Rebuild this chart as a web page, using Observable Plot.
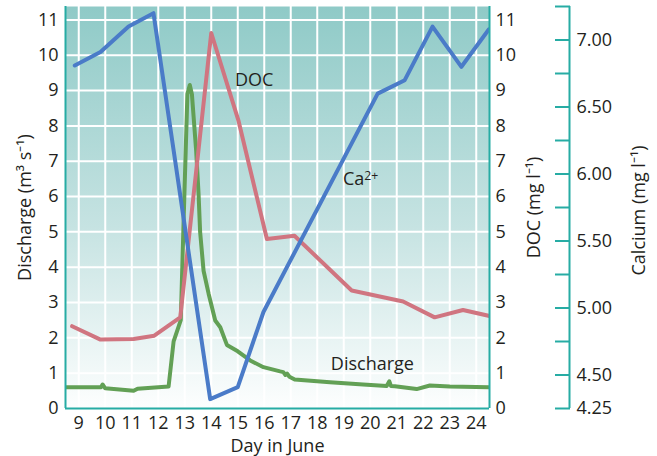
<!DOCTYPE html>
<html><head><meta charset="utf-8">
<script src="https://cdn.jsdelivr.net/npm/d3@7"></script>
<script src="https://cdn.jsdelivr.net/npm/@observablehq/plot@0.6"></script>
<style>body{margin:0;background:#fff;}</style>
</head><body><div id="chart"></div>
<script>
// ---- data ----
const days = [9,10,11,12,13,14,15,16,17,18,19,20,21,22,23,24];
const yTicks = [0,1,2,3,4,5,6,7,8,9,10,11];
const gridYTicks = [1,2,3,4,5,6,7,8,9,10,11];
const caTicks = [4.25,4.5,4.75,5,5.25,5.5,5.75,6,6.25,6.5,6.75,7,7.25];
const caLabelled = [4.25,4.5,5,5.5,6,6.5,7];

const dischargeDay = [8.5,9.84,9.9,10.0,11.07,11.22,12.39,12.58,12.85,12.98,13.1,13.19,13.27,13.43,13.52,13.58,13.71,13.9,14.15,14.34,14.59,15.0,15.47,15.97,16.6,16.72,16.8,16.86,16.95,17.15,18.48,19.73,20.62,20.72,20.78,20.93,21.75,22.25,23.0,24.5];
const dischargeVal = [0.6,0.6,0.68,0.57,0.5,0.56,0.62,1.9,2.5,5.9,8.9,9.16,8.9,7.3,6.1,5.0,3.9,3.25,2.49,2.3,1.8,1.62,1.36,1.17,1.05,1.03,0.95,0.99,0.9,0.82,0.74,0.68,0.64,0.77,0.64,0.63,0.55,0.65,0.62,0.6];

const docDay = [8.75,9.82,11.07,11.85,12.83,14.0,15.03,16.1,17.14,19.3,21.24,22.43,23.5,24.5];
const docVal = [2.33,1.95,1.97,2.06,2.58,10.63,8.14,4.8,4.89,3.34,3.03,2.58,2.79,2.62];

const caDay = [8.85,9.82,10.88,11.82,13.96,15.0,15.97,20.28,21.3,22.35,23.44,24.48];
const caVal = [6.81,6.91,7.10,7.20,4.32,4.41,4.97,6.60,6.70,7.10,6.80,7.08];

const labels = ["DOC", "Ca2+", "Discharge"];
const labelDay = [15.62, 18.97, 20.08];
const labelVal = [9.30, 6.48, 1.26];

// ---- scales ----
const xDomain = [8.5, 24.5];
const yDomain = [0, 11.38];
const caDomain = [4.25, 7.25];
const caToY = c => (c - caDomain[0]) / (caDomain[1] - caDomain[0]) * yDomain[1];

const teal = "#27aca4";
const ink = "#231f20";

const discharge = dischargeDay.map((d, i) => ({x: d, y: dischargeVal[i]}));
const doc = docDay.map((d, i) => ({x: d, y: docVal[i]}));
const ca = caDay.map((d, i) => ({x: d, y: caToY(caVal[i])}));

const caFormat = d => {
  const c = Math.round((caDomain[0] + d / yDomain[1] * (caDomain[1] - caDomain[0])) * 4) / 4;
  return caLabelled.includes(c) ? c.toFixed(2) : "";
};

const defs = () => {
  const g = d3.create("svg:defs");
  const lg = g.append("linearGradient").attr("id", "bg").attr("x1", 0).attr("y1", 0).attr("x2", 0).attr("y2", 1);
  lg.append("stop").attr("offset", "0%").attr("stop-color", "#8fcac7");
  lg.append("stop").attr("offset", "55%").attr("stop-color", "#c6e3e2");
  lg.append("stop").attr("offset", "100%").attr("stop-color", "#fdfefe");
  return g.node();
};

const chart = Plot.plot({
  width: 657,
  height: 456,
  marginLeft: 65,
  marginRight: 168,
  marginTop: 6,
  marginBottom: 48,
  x: {domain: xDomain, axis: null},
  y: {domain: yDomain, axis: null},
  style: {fontFamily: "'Open Sans', sans-serif", fontSize: "18px", color: ink, background: "white"},
  marks: [
    defs,
    Plot.frame({fill: "url(#bg)", stroke: null}),
    Plot.gridX(days, {stroke: "white", strokeOpacity: 1, strokeWidth: 2}),
    Plot.gridY(gridYTicks, {stroke: "white", strokeOpacity: 1, strokeWidth: 2}),
    Plot.line(discharge, {x: "x", y: "y", stroke: "#62a055", strokeWidth: 4, clip: true}),
    Plot.line(doc, {x: "x", y: "y", stroke: "#d07580", strokeWidth: 4, clip: true}),
    Plot.line(ca, {x: "x", y: "y", stroke: "#4a7bc8", strokeWidth: 4, clip: true}),
    Plot.ruleX([xDomain[0]], {stroke: teal, strokeWidth: 2}),
    Plot.ruleX([xDomain[1]], {stroke: teal, strokeWidth: 2}),
    Plot.ruleY([0], {stroke: teal, strokeWidth: 2}),
    Plot.axisX(days, {tickSize: 0, tickPadding: 8, label: null, fill: ink}),
    Plot.axisY(yTicks, {anchor: "left", tickSize: 0, tickPadding: 7, label: null, fill: ink}),
    Plot.axisY(yTicks, {anchor: "right", tickSize: 0, tickPadding: 6, label: null, fill: ink}),
    Plot.axisY(caTicks.map(caToY), {anchor: "right", dx: 65, tickSize: 15, tickPadding: 7, stroke: teal, strokeWidth: 2, fill: ink, tickFormat: caFormat, label: null}),
    Plot.ruleX([xDomain[1]], {dx: 80, stroke: teal, strokeWidth: 2}),
    Plot.text(["Discharge (m³ s⁻¹)"], {frameAnchor: "left", rotate: -90, dx: -40, textAnchor: "middle", lineAnchor: "middle", fill: ink}),
    Plot.text(["DOC (mg l⁻¹)"], {frameAnchor: "right", rotate: -90, dx: 45, textAnchor: "middle", lineAnchor: "middle", fill: ink}),
    Plot.text(["Calcium (mg l⁻¹)"], {frameAnchor: "right", rotate: -90, dx: 150, dy: 3, textAnchor: "middle", lineAnchor: "middle", fill: ink}),
    Plot.text(["Day in June"], {frameAnchor: "bottom", dy: 43, textAnchor: "middle", lineAnchor: "bottom", fill: ink}),
    Plot.text(labels, {x: (d, i) => labelDay[i], y: (d, i) => labelVal[i], text: d => d, textAnchor: "start", fill: ink,
      filter: (d, i) => i === 1}),
    Plot.text(labels, {x: (d, i) => labelDay[i], y: (d, i) => labelVal[i], text: d => d, textAnchor: "middle", fill: ink,
      filter: (d, i) => i !== 1})
  ]
});
document.getElementById("chart").appendChild(chart);

// superscript for Ca2+
d3.select(chart).selectAll("text").each(function() {
  if (this.textContent === "Ca2+") {
    const t = d3.select(this);
    t.text("Ca");
    t.append("tspan").attr("dy", "-0.45em").attr("font-size", "0.68em").text("2+");
  }
});
</script>
</body></html>
